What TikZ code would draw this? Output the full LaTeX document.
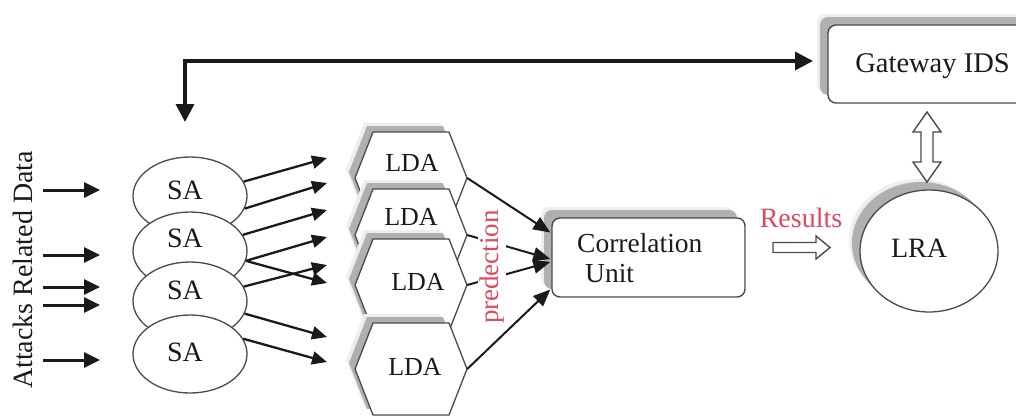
\documentclass[tikz,border=0pt]{standalone}
\usepackage{fontspec}
\setmainfont{Liberation Serif}
\usetikzlibrary{arrows.meta,calc,shapes.geometric,shadows}

\definecolor{ink}{HTML}{1A1A1A}
\definecolor{edge}{HTML}{4A4A4A}
\definecolor{shade}{HTML}{B0B0B0}
\definecolor{halo}{HTML}{EEEEEE}
\definecolor{note}{HTML}{DC4A5C}

\tikzset{
  txt/.style={inner sep=0pt, text=ink, font=\fontsize{#1pt}{#1pt}\selectfont},
  txt/.default=28,
  softshadow/.style={
    general shadow={fill=halo, shadow xshift=-#1pt-3pt, shadow yshift=#1pt+3pt},
    general shadow={fill=shade, shadow xshift=-#1pt, shadow yshift=#1pt}},
  softshadow/.default=8,
  box/.style={rectangle, rounded corners=8pt, draw=edge, line width=1.4pt,
    fill=white, inner sep=0pt, softshadow},
  sa/.style={ellipse, draw=edge, line width=1.3pt, fill=white,
    minimum width=114pt, minimum height=78pt, inner sep=0pt},
  hexline/.style={draw=edge, line width=1.3pt, fill=white, line join=miter,
    softshadow=6},
  hexanchor/.style={rectangle, draw=none, inner sep=0pt,
    minimum width=112pt, minimum height=92pt},
  inarrow/.style={draw=ink, line width=3pt, -{Triangle[length=16pt,width=15pt]}},
  fanarrow/.style={draw=ink, line width=2.3pt, -{Triangle[length=15pt,width=13pt]}},
  joinarrow/.style={draw=ink, line width=2pt, -{Triangle[length=17pt,width=14pt]}},
  feedback/.style={draw=ink, line width=3.5pt,
    {Triangle[length=18pt,width=18pt]}-{Triangle[length=18pt,width=18pt]}},
  hollow/.style={draw=edge, line width=1.4pt, fill=white, line join=miter},
}

% one LDA hexagon: name, centre x, centre y, label x, label y
\newcommand\ldahex[5]{%
  \draw[hexline, shift={(#2,#3)}]
    (-56,0) -- (-38,-46) -- (38,-46) -- (56,0) -- (38,46) -- (-38,46) -- cycle;
  \node[hexanchor] (#1) at (#2,#3) {};
  \node[txt=26] (#1t) at (#4,#5) {LDA};
}

\begin{document}
\begin{tikzpicture}[x=1pt, y=-1pt]
  \useasboundingbox (0,0) rectangle (1016,418);
  \clip (0,0) rectangle (1016,418);

  % input label
  \node[txt=28, rotate=90] (attacks) at (23,270) {Attacks Related Data};

  % sensor agents
  \node[sa] (sa1) at (190,196) {};
  \node[txt=28] (sa1t) at (185,190) {SA};
  \node[sa] (sa2) at (190,251) {};
  \node[txt=28] (sa2t) at (185,238) {SA};
  \node[sa] (sa3) at (190,301) {};
  \node[txt=28] (sa3t) at (185,290) {SA};
  \node[sa] (sa4) at (190,354) {};
  \node[txt=28] (sa4t) at (185,352) {SA};

  % incoming data
  \foreach \i/\y in {1/190, 2/255, 3/287, 4/305, 5/360} {
    \coordinate (in\i s) at (43,\y);
    \coordinate (in\i e) at (100,\y);
    \draw[inarrow] (in\i s) -- (in\i e);
  }

  % LDA hexagons
  \ldahex{lda1}{411}{178}{412}{163}
  \ldahex{lda2}{411}{235}{411}{217}
  \ldahex{lda3}{411}{285}{418}{282}
  \ldahex{lda4}{411}{369}{415}{367}

  % fan-out from the sensor agents
  \coordinate (f1) at (327,158);
  \coordinate (f2) at (327,183);
  \coordinate (f3) at (327,210);
  \coordinate (f4) at (327,237);
  \coordinate (f5) at (327,283);
  \coordinate (f6) at (327,265);
  \coordinate (f7) at (327,337);
  \coordinate (f8) at (327,362);
  \draw[fanarrow] (sa1.15)  -- (f1);
  \draw[fanarrow] (sa1.-13) -- (f2);
  \draw[fanarrow] (sa2.17)  -- (f3);
  \draw[fanarrow] (sa2.-10) -- (f4);
  \draw[fanarrow] (sa2.-10) -- (f5);
  \draw[fanarrow] (sa3.15)  -- (f6);
  \draw[fanarrow] (sa3.-13) -- (f7);
  \draw[fanarrow] (sa4.16)  -- (f8);

  % correlation unit
  \node[box, minimum width=193pt, minimum height=79pt] (corr) at (648.5,257.5) {};
  \node[txt=27.5, align=left, anchor=west] (corrt) at (577,258)
    {Correlation\\[3pt]\hspace*{8pt}Unit};

  \draw[joinarrow] (lda1.east) -- ($(corr.west)+(-1,-25)$);
  \draw[joinarrow] (lda2.east) -- ($(corr.west)+(-1,1.5)$);
  \draw[joinarrow] (lda3.east) -- ($(corr.west)+(-1,4.5)$);
  \draw[joinarrow] (lda4.east) -- ($(corr.west)+(-1,32)$);

  \node[txt=27, text=note, rotate=90, fill=white, inner sep=2pt] (pred)
    at (492,267) {predection};

  % gateway IDS
  \node[box, minimum width=230pt, minimum height=78pt] (gw) at (943,64) {};
  \node[txt=28.5] (gwt) at (932.5,66) {Gateway IDS};

  % LRA
  \node[ellipse, draw=edge, line width=1.3pt, fill=white, inner sep=0pt,
        minimum width=138pt, minimum height=122pt, softshadow=8] (lra) at (929,251) {};
  \node[txt=28] (lrat) at (919,248) {LRA};

  % results
  \node[txt=28, text=note] (results) at (801,218) {Results};
  \coordinate (resarrow) at (773,247.5);
  \draw[hollow, shift={(resarrow)}]
    (0,-5) -- (43,-5) -- (43,-11.5) -- (57,0) -- (43,11.5) -- (43,5) -- (0,5) -- cycle;

  % gateway <-> LRA
  \coordinate (link) at (927,147);
  \draw[hollow, shift={(link)}]
    (0,-35) -- (14,-15) -- (6,-15) -- (6,15) -- (14,15) -- (0,35)
    -- (-14,15) -- (-6,15) -- (-6,-15) -- (-14,-15) -- cycle;

  % feedback line
  \coordinate (fbdown) at (185,122);
  \coordinate (fbend) at (813,61);
  \draw[feedback] (fbdown) |- (fbend);
\end{tikzpicture}
\end{document}
